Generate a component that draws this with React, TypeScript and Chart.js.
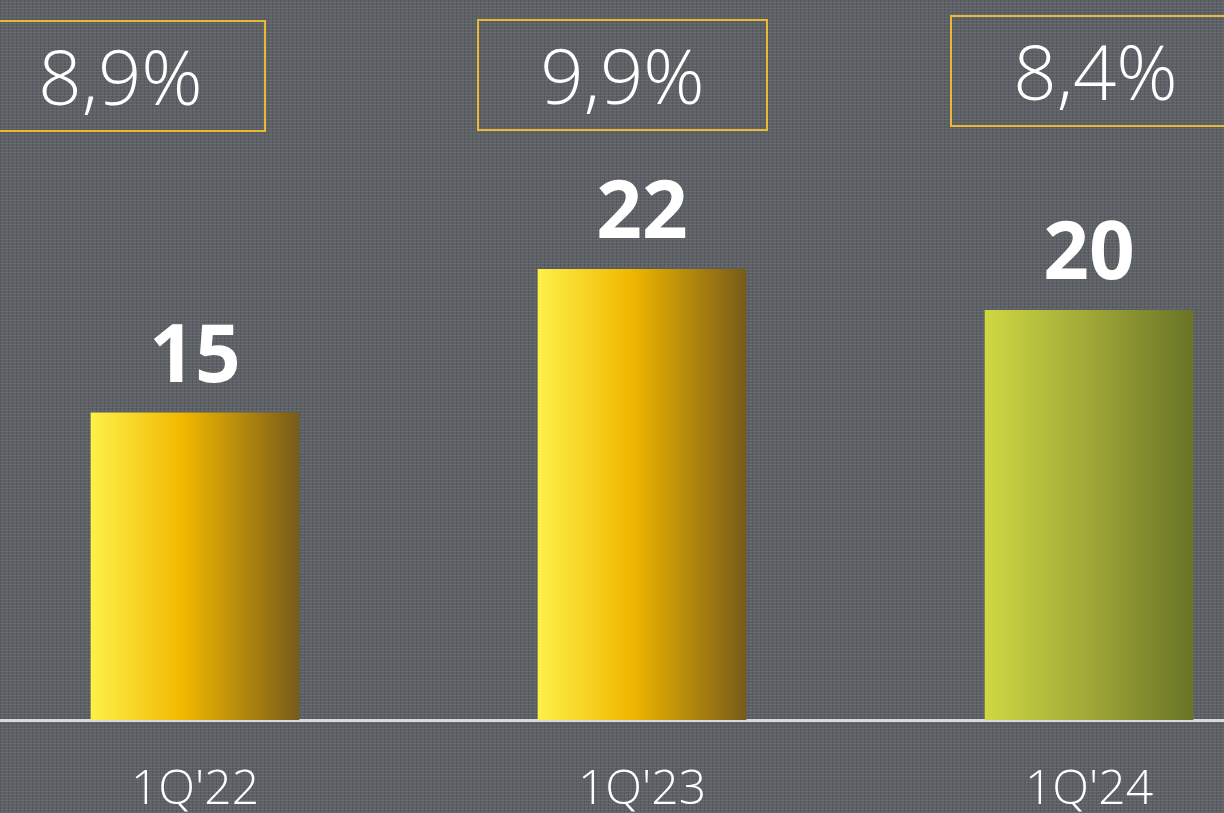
import React, { useEffect, useRef } from "react";
import { Chart, registerables } from "chart.js";

Chart.register(...registerables);

const categories = ["1Q'22", "1Q'23", "1Q'24"];
const values = [15, 22, 20];
const ratios = ["8,9%", "9,9%", "8,4%"];

// layout / style constants
const BAR_STOPS: [number, string][][] = [
  [[0, "#fef048"], [0.45, "#f0b700"], [1, "#785b19"]],
  [[0, "#fef048"], [0.45, "#f0b700"], [1, "#785b19"]],
  [[0, "#ced842"], [0.5, "#a0a838"], [1, "#6a7326"]],
];
const BAR_W = 208;
const BOX_DX = [-74.5, -19.5, 6.5];
const BOX_TOP = [21, 20, 16];
const BOX_W = 289;
const BOX_H = 110;

const overlayPlugin = {
  id: "overlay",
  afterDatasetsDraw(chart: any) {
    const { ctx } = chart;
    const xs = chart.scales.x;
    const meta = chart.getDatasetMeta(0);
    ctx.save();
    ratios.forEach((r, i) => {
      const cx = xs.getPixelForValue(i) + BOX_DX[i];
      const top = BOX_TOP[i];
      ctx.strokeStyle = "#e7b935";
      ctx.lineWidth = 2;
      ctx.strokeRect(cx - BOX_W / 2, top, BOX_W, BOX_H);
      ctx.fillStyle = "#ffffff";
      ctx.font = "300 76px 'Open Sans', 'Noto Sans', sans-serif";
      ctx.textAlign = "center";
      ctx.textBaseline = "alphabetic";
      ctx.fillText(r, cx, top + 84);
    });
    meta.data.forEach((bar: any, i: number) => {
      ctx.fillStyle = "#ffffff";
      ctx.font = "700 80px 'Noto Sans', sans-serif";
      ctx.textAlign = "center";
      ctx.textBaseline = "alphabetic";
      ctx.fillText(String(values[i]), bar.x, bar.y - 31);
    });
    ctx.restore();
  },
};

export default function App() {
  const ref = useRef<HTMLCanvasElement | null>(null);
  useEffect(() => {
    if (!ref.current) return;
    const chart = new Chart(ref.current, {
      type: "bar",
      data: {
        datasets: [
          {
            data: values.map((v, i) => ({ x: i, y: v })) as any,
            barThickness: BAR_W,
            borderWidth: 0,
            backgroundColor: (c: any) => {
              const chart = c.chart;
              const stops = BAR_STOPS[c.dataIndex] || BAR_STOPS[0];
              if (!chart.chartArea || c.type !== "data") return stops[0][1];
              const x = chart.scales.x.getPixelForValue(c.dataIndex);
              const g = chart.ctx.createLinearGradient(x - BAR_W / 2, 0, x + BAR_W / 2, 0);
              stops.forEach(([o, col]) => g.addColorStop(o, col));
              return g;
            },
          },
        ],
      },
      options: {
        animation: false,
        responsive: true,
        maintainAspectRatio: false,
        layout: { padding: 0 },
        plugins: { legend: { display: false }, tooltip: { enabled: false } },
        scales: {
          x: {
            type: "linear",
            offset: false,
            min: -195 / 447,
            max: 1029 / 447,
            grid: { display: false, drawTicks: false, offset: false },
            border: { display: true, color: "#d9d9d9", width: 3 },
            afterBuildTicks: (s: any) => {
              s.ticks = categories.map((_, i) => ({ value: i }));
            },
            ticks: {
              autoSkip: false,
              maxRotation: 0,
              padding: 46,
              color: "#ffffff",
              font: { family: "'Open Sans', sans-serif", size: 48, weight: 300, lineHeight: 1 },
              callback: (v: any) => categories[v] ?? "",
            },
          },
          y: { display: false, min: 0, max: 35.15 },
        },
      },
      plugins: [overlayPlugin],
    });
    return () => chart.destroy();
  }, []);

  return (
    <div
      style={{
        position: "absolute",
        left: 0,
        top: 0,
        width: 1224,
        height: 813,
        overflow: "hidden",
        backgroundColor: "#5d6065",
        backgroundImage:
          "repeating-linear-gradient(0deg, rgba(255,255,255,0.07) 0px, rgba(255,255,255,0.07) 1px, rgba(0,0,0,0) 1px, rgba(0,0,0,0) 3px), repeating-linear-gradient(90deg, rgba(0,0,0,0.11) 0px, rgba(0,0,0,0.11) 1px, rgba(0,0,0,0) 1px, rgba(0,0,0,0) 4px)",
      }}
    >
      <div style={{ position: "relative", width: 1224, height: 860 }}>
        <canvas ref={ref} />
      </div>
    </div>
  );
}
